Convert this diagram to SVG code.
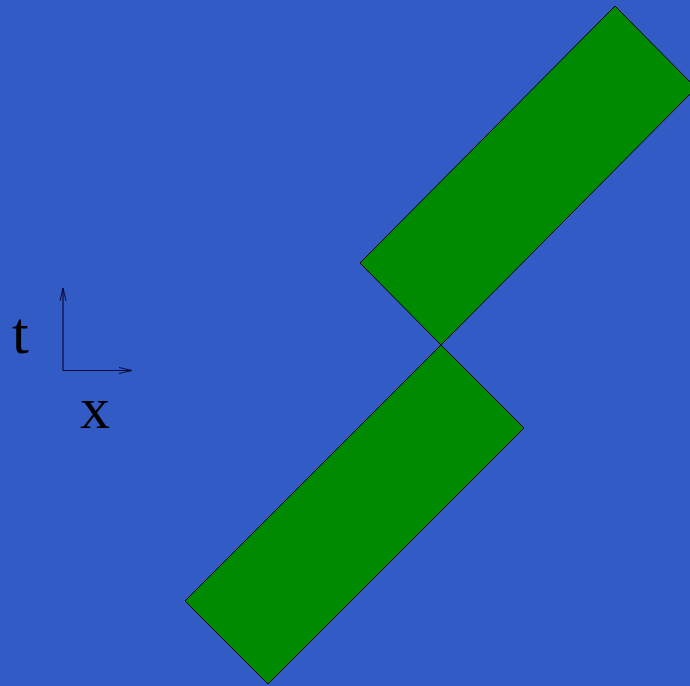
<svg xmlns="http://www.w3.org/2000/svg" width="690" height="686" viewBox="0 0 690 686">
<style>
.box{fill:#008a00;stroke:#000;stroke-width:1}
.ax{stroke:#0a0a3c;stroke-width:1.2;fill:none}
.lbl{font-family:"Liberation Serif",serif;font-size:60px;fill:#000}
</style>
<defs>
<marker id="ah" markerWidth="14" markerHeight="8" refX="13" refY="4" orient="auto" markerUnits="userSpaceOnUse">
<path d="M0,1 L13,4 L0,7" fill="none" stroke="#0a0a3c" stroke-width="1"/>
</marker>
</defs>
<rect width="690" height="686" fill="#335bc5"/>
<g id="upper-block"><polygon class="box" points="360,263 441,345 696,88 615,6"/></g>
<g id="lower-block"><polygon class="box" points="441,345 524,428 268,684 185,601"/></g>
<g id="axes">
<line class="ax" x1="63" y1="370.5" x2="63" y2="288" marker-end="url(#ah)"/>
<line class="ax" x1="63" y1="370.5" x2="132" y2="370.5" marker-end="url(#ah)"/>
</g>
<text class="lbl" x="12" y="353">t</text>
<text class="lbl" x="80" y="428">x</text>
</svg>
